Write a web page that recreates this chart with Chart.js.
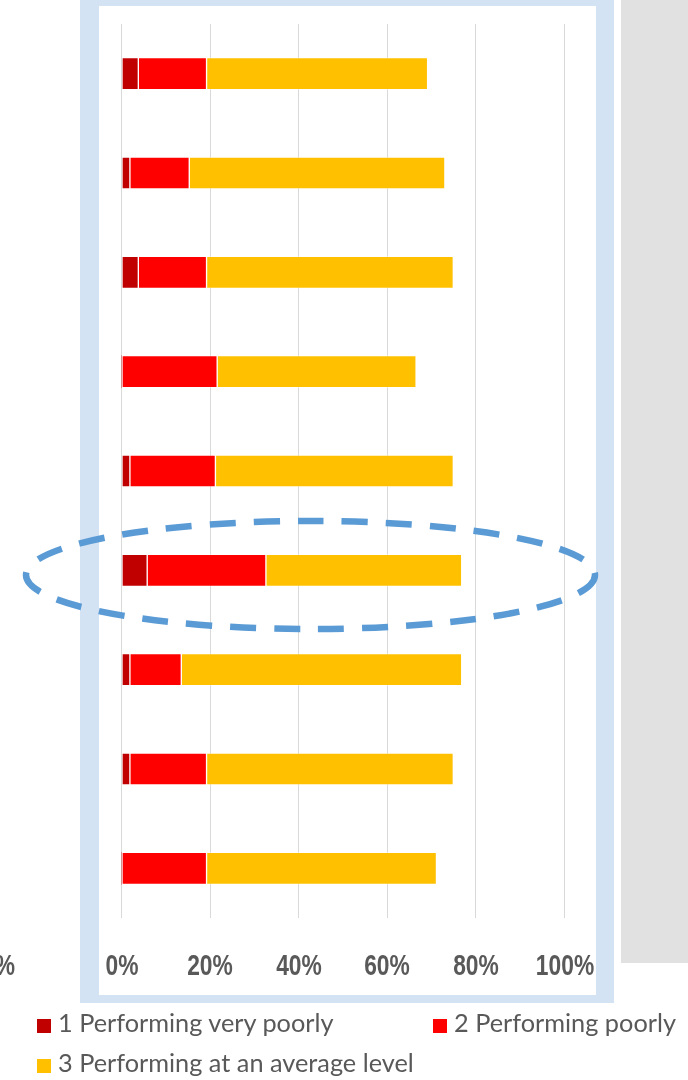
<!DOCTYPE html>
<html>
<head>
<meta charset="utf-8">
<script src="https://cdn.jsdelivr.net/npm/chart.js@4/dist/chart.umd.min.js"></script>
<style>
  body { margin: 0; background: #fff; overflow: hidden; width: 688px; height: 1080px; position: relative; }
  .frame { position: absolute; left: 80px; top: -13px; width: 534px; height: 1016px; box-sizing: border-box;
           border-style: solid; border-color: #d4e3f4; border-width: 19px 18px 8px 19px; }
  .gray { position: absolute; left: 621px; top: 0; width: 67px; height: 963px; background: #e1e1e1; }
  #chart { position: absolute; left: 0; top: 0; }
  svg { position: absolute; left: 0; top: 0; }
  .tick { position: absolute; top: 948px; width: 100px; text-align: center; line-height: 30px;
          font: bold 30px "Liberation Sans", Arial, sans-serif; color: #595959;
          transform: scaleX(0.76); transform-origin: 50% 50%; white-space: nowrap; }
  .leg { position: absolute; font: 25.3px Lato, sans-serif; color: #595959; white-space: nowrap; line-height: 28px; }
  .leg span { display: inline-block; width: 14px; height: 14px; margin-right: 7px; vertical-align: -1px; }
</style>
</head>
<body>
<div class="frame"></div>
<div class="gray"></div>
<canvas id="chart" width="688" height="1080"></canvas>
<svg width="688" height="1080">
  <ellipse cx="310.5" cy="575" rx="284.5" ry="54" fill="none" stroke="#5b9bd5" stroke-width="6.5" stroke-dasharray="26 18"/>
</svg>
<div class="tick" style="left:-45px">%</div>
<div id="ticks"></div>
<div id="legend"></div>
<script>
const categories = ['1', '2', '3', '4', '5', '6', '7', '8', '9'];
const veryPoorly = [3.8, 1.9, 3.8, 0, 1.9, 5.8, 1.9, 1.9, 0];
const poorly = [15.4, 13.4, 15.4, 21.6, 19.3, 26.8, 11.6, 17.3, 19.2];
const averageLevel = [49.9, 57.7, 55.7, 44.9, 53.7, 44.2, 63.3, 55.7, 51.9];
const xTicks = [0, 20, 40, 60, 80, 100];

const seriesNames = ['1 Performing very poorly', '2 Performing poorly', '3 Performing at an average level'];
const seriesColors = ['#c00000', '#ff0000', '#ffc000'];

// legend is laid out by hand, two columns like the original
const legendPos = [[37, 1008], [433, 1008], [37, 1048]];
const legendBox = document.getElementById('legend');
seriesNames.forEach((name, i) => {
  const d = document.createElement('div');
  d.className = 'leg';
  d.style.left = legendPos[i][0] + 'px';
  d.style.top = legendPos[i][1] + 'px';
  d.innerHTML = '<span style="background:' + seriesColors[i] + '"></span>' + name;
  legendBox.appendChild(d);
});

// tick labels need a narrow bold face, so they go in html at the scale's own pixels
const tickLabels = {
  id: 'tickLabels',
  afterRender(chart) {
    const box = document.getElementById('ticks');
    if (box.childElementCount) return;
    const xs = chart.scales.x;
    xTicks.forEach(v => {
      const d = document.createElement('div');
      d.className = 'tick';
      d.style.left = (xs.getPixelForValue(v) - 50) + 'px';
      d.textContent = v + '%';
      box.appendChild(d);
    });
  }
};

function makeSet(label, data, color) {
  return {
    label: label,
    data: data,
    backgroundColor: color,
    borderColor: 'rgba(255,255,255,0.35)',
    borderWidth: ctx => (ctx.raw > 0 ? 1 : 0),
    borderSkipped: false,
    barThickness: 32
  };
}

new Chart(document.getElementById('chart'), {
  type: 'bar',
  data: {
    labels: categories,
    datasets: [
      makeSet(seriesNames[0], veryPoorly, seriesColors[0]),
      makeSet(seriesNames[1], poorly, seriesColors[1]),
      makeSet(seriesNames[2], averageLevel, seriesColors[2])
    ]
  },
  plugins: [tickLabels],
  options: {
    indexAxis: 'y',
    responsive: false,
    animation: false,
    devicePixelRatio: 1,
    layout: { padding: { left: 121.5, right: 123.5, top: 24, bottom: 162 } },
    plugins: {
      legend: { display: false },
      tooltip: { enabled: false }
    },
    scales: {
      x: {
        stacked: true,
        min: 0,
        max: 100,
        afterBuildTicks: axis => { axis.ticks = xTicks.map(v => ({ value: v })); },
        ticks: { display: false },
        grid: { color: '#d9d9d9', lineWidth: 1, drawTicks: false },
        border: { display: false }
      },
      y: {
        stacked: true,
        display: false
      }
    }
  }
});
</script>
</body>
</html>
